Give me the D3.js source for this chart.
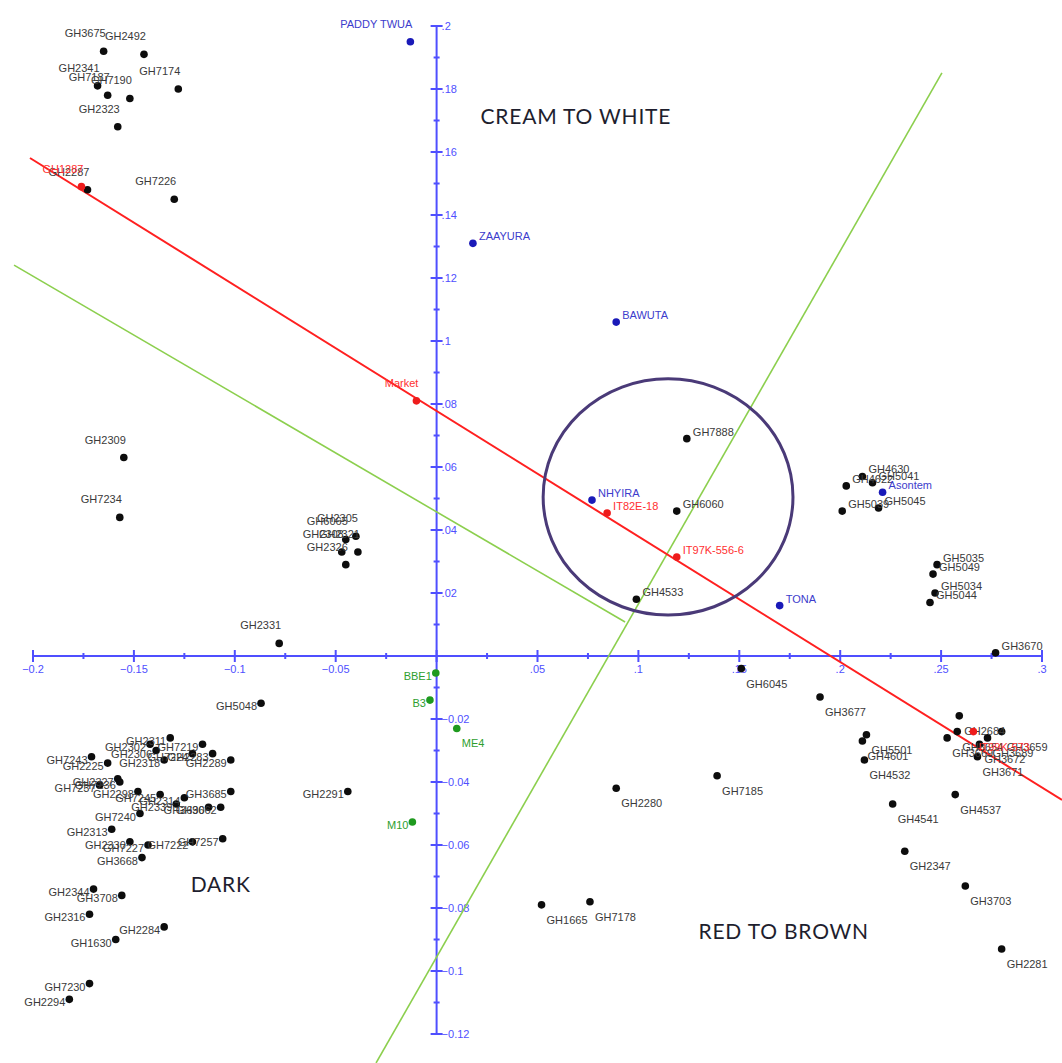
<!DOCTYPE html>
<html>
<head>
<meta charset="utf-8">
<script src="https://cdn.jsdelivr.net/npm/d3@7"></script>
<style>
  html, body { margin: 0; padding: 0; background: #ffffff; }
  svg { display: block; }
</style>
</head>
<body>
<svg id="chart" width="1062" height="1063"></svg>
<script>
// ---------------- DATA ----------------
const xTickValues = [-0.2, -0.15, -0.1, -0.05, 0.05, 0.1, 0.15, 0.2, 0.25, 0.3];
const yTickValues = [0.2, 0.18, 0.16, 0.14, 0.12, 0.1, 0.08, 0.06, 0.04, 0.02,
                     -0.02, -0.04, -0.06, -0.08, -0.1, -0.12];

// accessions (black)
const blackPoints = [
  ["GH3675", -0.165, 0.192], ["GH2492", -0.145, 0.191], ["GH2341", -0.168, 0.181],
  ["GH7187", -0.163, 0.178], ["GH7174", -0.128, 0.180], ["GH7190", -0.152, 0.177],
  ["GH2323", -0.158, 0.168], ["GH2287", -0.173, 0.148], ["GH7226", -0.130, 0.145],
  ["GH2309", -0.155, 0.063], ["GH7234", -0.157, 0.044],
  ["GH6065", -0.045, 0.037], ["GH2305", -0.040, 0.038], ["GH2321", -0.039, 0.033],
  ["GH2308", -0.047, 0.033], ["GH2326", -0.045, 0.029],
  ["GH2331", -0.078, 0.004], ["GH5048", -0.087, -0.015], ["GH2291", -0.044, -0.043],
  ["GH7888", 0.124, 0.069], ["GH6060", 0.119, 0.046], ["GH4533", 0.099, 0.018],
  ["GH4622", 0.203, 0.054], ["GH4630", 0.211, 0.057], ["GH5041", 0.216, 0.055],
  ["GH5039", 0.201, 0.046], ["GH5045", 0.219, 0.047],
  ["GH5035", 0.248, 0.029], ["GH5049", 0.246, 0.026], ["GH5034", 0.247, 0.020],
  ["GH5044", 0.2445, 0.017], ["GH3670", 0.277, 0.001],
  ["GH6045", 0.151, -0.004], ["GH3677", 0.190, -0.013],
  ["GH4601", 0.211, -0.027], ["GH5501", 0.213, -0.025], ["GH4532", 0.212, -0.033],
  ["GH4541", 0.226, -0.047], ["GH4537", 0.257, -0.044], ["GH2347", 0.232, -0.062],
  ["GH3703", 0.262, -0.073], ["GH2281", 0.280, -0.093],
  ["GH2684", 0.259, -0.019], ["GH3654", 0.258, -0.024], ["GH3669", 0.253, -0.026],
  ["GH3672", 0.269, -0.028], ["GH3689", 0.273, -0.026], ["GH3659", 0.280, -0.024],
  ["GH3671", 0.268, -0.032],
  ["GH2280", 0.089, -0.042], ["GH7185", 0.139, -0.038],
  ["GH1665", 0.052, -0.079], ["GH7178", 0.076, -0.078],
  ["GH2311", -0.132, -0.026], ["GH7219", -0.116, -0.028], ["GH7243", -0.171, -0.032],
  ["GH2225", -0.163, -0.034], ["GH2302", -0.142, -0.028], ["GH2306", -0.139, -0.030],
  ["GH7224", -0.121, -0.031], ["GH2283", -0.111, -0.031], ["GH2289", -0.102, -0.033],
  ["GH2318", -0.135, -0.033], ["GH2327", -0.158, -0.039], ["GH7236", -0.157, -0.040],
  ["GH7237", -0.167, -0.041], ["GH2298", -0.148, -0.043], ["GH7245", -0.137, -0.044],
  ["GH2314", -0.125, -0.045], ["GH3685", -0.102, -0.043], ["GH2339", -0.129, -0.047],
  ["GH7240", -0.147, -0.050], ["GH3690", -0.113, -0.048], ["GH3662", -0.107, -0.048],
  ["GH2313", -0.161, -0.055], ["GH2330", -0.152, -0.059], ["GH7227", -0.143, -0.060],
  ["GH3668", -0.146, -0.064], ["GH7222", -0.121, -0.059], ["GH7257", -0.106, -0.058],
  ["GH2344", -0.170, -0.074], ["GH3708", -0.156, -0.076], ["GH2316", -0.172, -0.082],
  ["GH1630", -0.159, -0.090], ["GH2284", -0.135, -0.086],
  ["GH7230", -0.172, -0.104], ["GH2294", -0.182, -0.109]
];
// released varieties (blue)
const bluePoints = [
  ["PADDY TWUA", -0.013, 0.195], ["ZAAYURA", 0.018, 0.131], ["BAWUTA", 0.089, 0.106],
  ["NHYIRA", 0.077, 0.0495], ["TONA", 0.170, 0.016], ["Asontem", 0.221, 0.052]
];
// checks / lines (red)
const redPoints = [
  ["GH1287", -0.176, 0.149], ["Market", -0.010, 0.081], ["IT82E-18", 0.0845, 0.0454],
  ["IT97K-556-6", 0.119, 0.0314], ["IT99K-573", 0.266, -0.024]
];
// wild / mutant (green)
const greenPoints = [
  ["BBE1", -0.0004, -0.0054], ["B3", -0.0033, -0.014], ["ME4", 0.010, -0.023], ["M10", -0.012, -0.0527]
];
// lines and ellipse (data units)
const redLine = [[-0.2015, 0.1581], [0.3099, -0.0457]];
const greenLineA = [[-0.2094, 0.1241], [0.0934, 0.0108]];
const greenLineB = [[-0.030, -0.1292], [0.2504, 0.1851]];
const ellipseCenter = [0.1147, 0.0505];
const ellipseRadii = [0.0619, 0.0375];
const regionLabels = [
  ["CREAM TO WHITE", 0.069, 0.169], ["DARK", -0.107, -0.0750], ["RED TO BROWN", 0.172, -0.0897]
];

// ---------------- DRAW ----------------
const svg = d3.select("#chart");
const x = d3.scaleLinear().domain([-0.2, 0.3]).range([33, 1042]);
const y = d3.scaleLinear().domain([-0.12, 0.2]).range([1034, 26]);

const axisColor = "#4f4fff";
const fmt = v => d3.format(".2~f")(v).replace(/^(-?)0\./, "$1.");

svg.append("rect").attr("width", 1062).attr("height", 1063).attr("fill", "#fff");

const line = d3.line().x(d => x(d[0])).y(d => y(d[1]));

// axes
const ax = svg.append("g");
ax.append("line").attr("x1", x(-0.2)).attr("x2", x(0.3)).attr("y1", y(0)).attr("y2", y(0))
  .attr("stroke", axisColor).attr("stroke-width", 2);
ax.append("line").attr("x1", x(0)).attr("x2", x(0)).attr("y1", y(0.2)).attr("y2", y(-0.12))
  .attr("stroke", axisColor).attr("stroke-width", 2);

const xMinor = d3.range(-0.2, 0.3001, 0.025);
xMinor.forEach((v, i) => {
  const major = i % 2 === 0;
  const h = major ? 6 : 3;
  ax.append("line").attr("x1", x(v)).attr("x2", x(v))
    .attr("y1", y(0) - h).attr("y2", y(0) + h)
    .attr("stroke", axisColor).attr("stroke-width", 2);
});
const yMinor = d3.range(-0.12, 0.2001, 0.01);
yMinor.forEach((v, i) => {
  const major = i % 2 === 0;
  const w = major ? 6 : 3;
  ax.append("line").attr("y1", y(v)).attr("y2", y(v))
    .attr("x1", x(0) - w).attr("x2", x(0) + w)
    .attr("stroke", axisColor).attr("stroke-width", 2);
});
ax.selectAll("text.xt").data(xTickValues).join("text")
  .attr("x", d => x(d)).attr("y", y(0) + 17)
  .attr("text-anchor", "middle")
  .attr("font-family", "Liberation Sans, Arial, sans-serif").attr("font-size", 11)
  .attr("fill", axisColor).text(fmt);
ax.selectAll("text.yt").data(yTickValues).join("text")
  .attr("x", x(0) + 5).attr("y", d => y(d) + 4)
  .attr("font-family", "Liberation Sans, Arial, sans-serif").attr("font-size", 11)
  .attr("fill", axisColor).text(fmt);

// lines
svg.append("path").attr("d", line(greenLineA)).attr("stroke", "#8ccf4e").attr("stroke-width", 1.6).attr("fill", "none");
svg.append("path").attr("d", line(greenLineB)).attr("stroke", "#8ccf4e").attr("stroke-width", 1.6).attr("fill", "none");
svg.append("path").attr("d", line(redLine)).attr("stroke", "#ff2020").attr("stroke-width", 2).attr("fill", "none");

// ellipse
svg.append("ellipse")
  .attr("cx", x(ellipseCenter[0])).attr("cy", y(ellipseCenter[1]))
  .attr("rx", x(ellipseCenter[0] + ellipseRadii[0]) - x(ellipseCenter[0]))
  .attr("ry", y(ellipseCenter[1] - ellipseRadii[1]) - y(ellipseCenter[1]))
  .attr("fill", "none").attr("stroke", "#4a3a78").attr("stroke-width", 3);

// points
function drawGroup(pts, dotColor, textColor) {
  const g = svg.append("g");
  g.selectAll("circle").data(pts).join("circle")
    .attr("cx", d => x(d[1])).attr("cy", d => y(d[2])).attr("r", 3.8)
    .attr("fill", dotColor);
  g.selectAll("text").data(pts).join("text")
    .attr("x", d => x(d[1]) + (d[1] < 0 ? (d[2] > 0 ? 2 : -4) : (d[2] > 0 ? 6 : 5)))
    .attr("y", d => y(d[2]) + (d[2] > 0 ? (d[1] < 0 ? -14 : -3) : (d[1] < 0 ? 7 : 19)))
    .attr("text-anchor", d => d[1] < 0 ? "end" : "start")
    .attr("font-family", "Liberation Sans, Arial, sans-serif")
    .attr("font-size", 11)
    .attr("fill", textColor)
    .text(d => d[0]);
}
drawGroup(blackPoints, "#0d0d0d", "#3a3a3a");
drawGroup(greenPoints, "#1f9a1f", "#2e9e2e");
drawGroup(redPoints, "#ee1c1c", "#ff3030");
drawGroup(bluePoints, "#1a1ab8", "#3c3ccc");

// region labels
svg.selectAll("text.region").data(regionLabels).join("text")
  .attr("x", d => x(d[1])).attr("y", d => y(d[2]))
  .attr("text-anchor", "middle")
  .attr("font-family", "Lato, 'Open Sans', sans-serif")
  .attr("font-size", 21)
  .attr("letter-spacing", 0.8)
  .attr("fill", "#1e1e2e")
  .text(d => d[0]);
</script>
</body>
</html>
